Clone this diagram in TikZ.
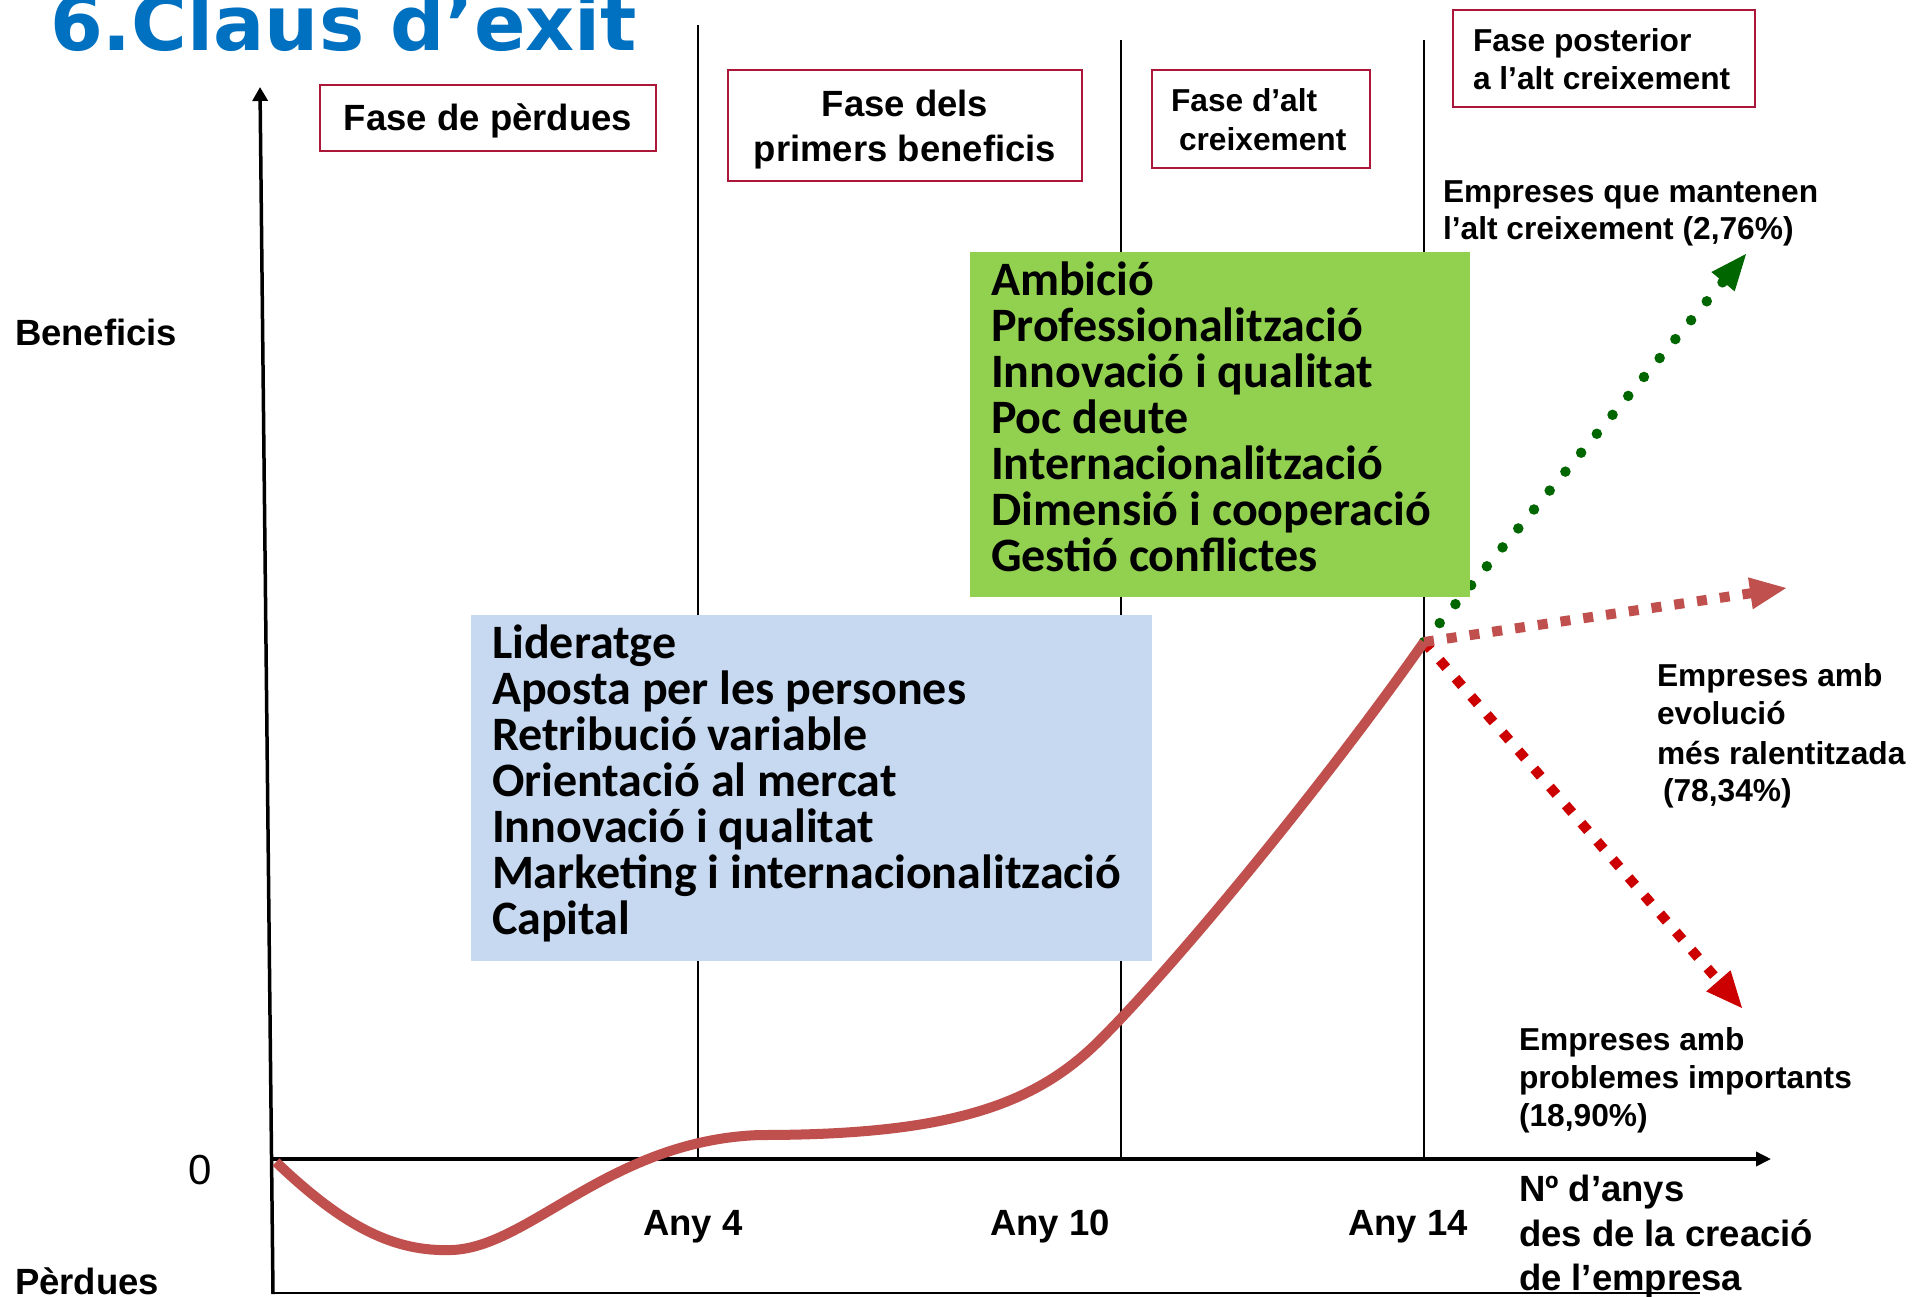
\documentclass[tikz,border=0pt]{standalone}
\usepackage{fontspec}
\setmainfont{Liberation Sans}
\newfontfamily\calib{Carlito}
\newfontfamily\titlefont{DejaVu Sans}
\usetikzlibrary{arrows.meta}
\definecolor{titleblue}{HTML}{0070C0}
\definecolor{boxred}{RGB}{172,22,56}
\definecolor{boxgreen}{HTML}{92D050}
\definecolor{boxblue}{HTML}{C6D9F1}
\definecolor{curvered}{HTML}{C0504D}
\definecolor{dkgreen}{RGB}{0,102,0}
\definecolor{brightred}{HTML}{CC0000}
\begin{document}
\begin{tikzpicture}[x=1pt,y=-1pt,
  every node/.style={inner sep=0pt, outer sep=0pt},
  txtA/.style={font=\bfseries\fontsize{36.5}{40}\selectfont, anchor=base west},
  txtB/.style={font=\bfseries\fontsize{31.7}{36}\selectfont, anchor=base west},
  bullettxt/.style={font=\calib\bfseries\fontsize{48}{48}\selectfont, anchor=base west},
  phasebox/.style={draw=boxred, line width=2pt},
  phaseline/.style={draw=black, line width=2pt},
  axisline/.style={draw=black, line width=3.5pt},
  curveline/.style={draw=curvered, line width=10pt},
  greendots/.style={draw=dkgreen, line width=10.5pt, line cap=round, dash pattern=on 0pt off 24.6pt,
    -{Triangle[length=36pt,width=30pt,line width=1pt]}},
  browndash/.style={draw=curvered, line width=10pt, dash pattern=on 10pt off 13pt,
    -{Triangle[length=36pt,width=32pt,line width=1pt]}},
  reddash/.style={draw=brightred, line width=10pt, dash pattern=on 10pt off 14pt,
    -{Triangle[length=36pt,width=32pt,line width=1pt]}}
]
\useasboundingbox (0,0) rectangle (1927,1296);
\fill[white] (0,0) rectangle (1927,1296);

% title
\node[anchor=base west, text=titleblue, font=\titlefont\bfseries\fontsize{76}{76}\selectfont] (title) at (50,50) {6.Claus d’exit};

% phase separators
\coordinate (v1t) at (698,25);   \coordinate (v1b) at (698,1158);
\coordinate (v2t) at (1121,40);  \coordinate (v2b) at (1121,1158);
\coordinate (v3t) at (1424,40);  \coordinate (v3b) at (1424,1158);
\draw[phaseline] (v1t) -- (v1b);
\draw[phaseline] (v2t) -- (v2b);
\draw[phaseline] (v3t) -- (v3b);

% axes
\coordinate (yb) at (273,1294); \coordinate (yt) at (260,87);
\coordinate (xo) at (272,1159); \coordinate (xe) at (1771,1159);
\coordinate (bl) at (272,1293); \coordinate (br) at (1700,1293);
\draw[axisline, -{Triangle[length=14pt,width=15pt]}] (yb) -- (yt);
\draw[axisline, -{Triangle[length=15pt,width=14pt]}] (xo) -- (xe);
\draw[black, line width=2.5pt] (bl) -- (br);

% scenario arrows
\coordinate (split) at (1424,642);
\coordinate (gtip) at (1746,254);
\coordinate (btip) at (1786,588);
\coordinate (rtip) at (1742,1008);
\draw[greendots] (split) -- (gtip);
\draw[reddash] (split) -- (rtip);
\draw[browndash] (split) -- (btip);

% coloured boxes
\node[fill=boxblue, minimum width=681pt, minimum height=346pt, anchor=north west] (bluebox) at (471,615) {};
\node[fill=boxgreen, minimum width=500pt, minimum height=345pt, anchor=north west] (greenbox) at (970,252) {};

\foreach \t [count=\i] in {Ambició, Professionalització, Innovació i qualitat, Poc deute, Internacionalització, Dimensió i cooperació, Gestió conflictes}
  \node[bullettxt] (g\i) at (991,{295+46.1*(\i-1)}) {\t};
\foreach \t [count=\i] in {Lideratge, Aposta per les persones, Retribució variable, Orientació al mercat, Innovació i qualitat, Marketing i internacionalització, Capital}
  \node[bullettxt] (b\i) at (492,{658+46.1*(\i-1)}) {\t};

% phase boxes
\node[phasebox, minimum width=336pt, minimum height=66pt] (ph1) at (488,118) {};
\node[txtA, anchor=base] (ph1a) at (488,130) {Fase de pèrdues};
\node[phasebox, minimum width=354pt, minimum height=111pt] (ph2) at (905,125.5) {};
\node[txtA, anchor=base] (ph2a) at (905,116) {Fase dels};
\node[txtA, anchor=base] (ph2b) at (905,161.5) {primers beneficis};
\node[phasebox, minimum width=218pt, minimum height=98pt] (ph3) at (1261,119) {};
\node[txtB] (ph3a) at (1171,111) {Fase d’alt};
\node[txtB] (ph3b) at (1179,150) {creixement};
\node[phasebox, minimum width=302pt, minimum height=97pt] (ph4) at (1604,58.5) {};
\node[txtB] (ph4a) at (1473,51) {Fase posterior};
\node[txtB] (ph4b) at (1473,89) {a l’alt creixement};

% scenario labels
\node[txtB] (s1a) at (1443,202.5) {Empreses que mantenen};
\node[txtB] (s1b) at (1443,239) {l’alt creixement (2,76\%)};
\node[txtB] (s2a) at (1657,686) {Empreses amb};
\node[txtB] (s2b) at (1657,724) {evolució};
\node[txtB] (s2c) at (1657,764) {més ralentitzada};
\node[txtB] (s2d) at (1663,801) {(78,34\%)};
\node[txtB] (s3a) at (1519,1050.5) {Empreses amb};
\node[txtB] (s3b) at (1519,1088.5) {problemes importants};
\node[txtB] (s3c) at (1519,1126) {(18,90\%)};

% axis labels
\node[txtA] (xl1) at (1519,1201) {Nº d’anys};
\node[txtA] (xl2) at (1519,1246) {des de la creació};
\node[txtA] (xl3) at (1519,1290) {de l’empresa};
\node[txtA] (any4) at (643,1235) {Any 4};
\node[txtA] (any10) at (990,1235) {Any 10};
\node[txtA] (any14) at (1348,1235) {Any 14};
\node[txtA] (benef) at (15,345) {Beneficis};
\node[txtA] (perd) at (15,1294) {Pèrdues};
\node[font=\fontsize{42}{42}\selectfont] (zero) at (200,1170) {0};

% profit curve
\coordinate (origin) at (276,1162);
\draw[curveline] (origin) .. controls (345,1228) and (395,1252) .. (452,1250)
  .. controls (530,1247) and (610,1140) .. (760,1135)
  .. controls (950,1135) and (1035,1105) .. (1100,1040)
  .. controls (1175,965) and (1320,790) .. (split);
\end{tikzpicture}
\end{document}
